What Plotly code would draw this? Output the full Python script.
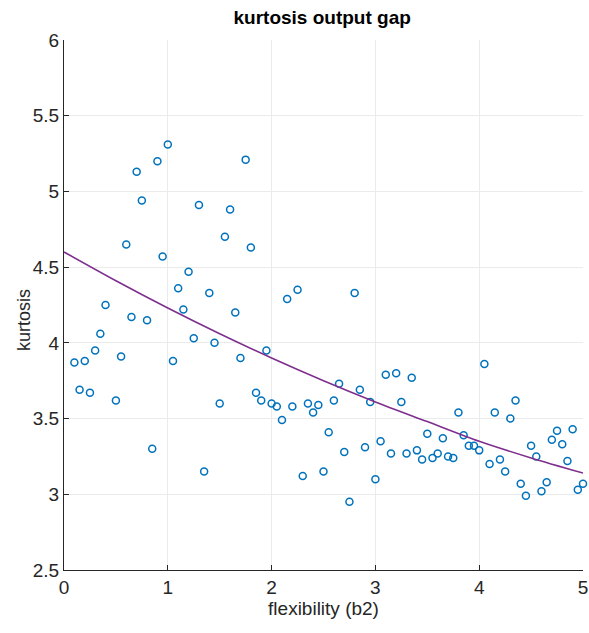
import plotly.graph_objects as go

# flexibility (b2) grid values and kurtosis
flex = [0.10, 0.15, 0.20, 0.25, 0.30, 0.35, 0.40, 0.50, 0.55, 0.60,
        0.65, 0.70, 0.75, 0.80, 0.85, 0.90, 0.95, 1.00, 1.05, 1.10,
        1.15, 1.20, 1.25, 1.30, 1.35, 1.40, 1.45, 1.50, 1.55, 1.60,
        1.65, 1.70, 1.75, 1.80, 1.85, 1.90, 1.95, 2.00, 2.05, 2.10,
        2.15, 2.20, 2.25, 2.30, 2.35, 2.40, 2.45, 2.50, 2.55, 2.60,
        2.65, 2.70, 2.75, 2.80, 2.85, 2.90, 2.95, 3.00, 3.05, 3.10,
        3.15, 3.20, 3.25, 3.30, 3.35, 3.40, 3.45, 3.50, 3.55, 3.60,
        3.65, 3.70, 3.75, 3.80, 3.85, 3.90, 3.95, 4.00, 4.05, 4.10,
        4.15, 4.20, 4.25, 4.30, 4.35, 4.40, 4.45, 4.50, 4.55, 4.60,
        4.65, 4.70, 4.75, 4.80, 4.85, 4.90, 4.95, 5.00]
kurt = [3.87, 3.69, 3.88, 3.67, 3.95, 4.06, 4.25, 3.62, 3.91, 4.65,
        4.17, 5.13, 4.94, 4.15, 3.30, 5.20, 4.57, 5.31, 3.88, 4.36,
        4.22, 4.47, 4.03, 4.91, 3.15, 4.33, 4.00, 3.60, 4.70, 4.88,
        4.20, 3.90, 5.21, 4.63, 3.67, 3.62, 3.95, 3.60, 3.58, 3.49,
        4.29, 3.58, 4.35, 3.12, 3.60, 3.54, 3.59, 3.15, 3.41, 3.62,
        3.73, 3.28, 2.95, 4.33, 3.69, 3.31, 3.61, 3.10, 3.35, 3.79,
        3.27, 3.80, 3.61, 3.27, 3.77, 3.29, 3.23, 3.40, 3.24, 3.27,
        3.37, 3.25, 3.24, 3.54, 3.39, 3.32, 3.32, 3.29, 3.86, 3.20,
        3.54, 3.23, 3.15, 3.50, 3.62, 3.07, 2.99, 3.32, 3.25, 3.02,
        3.08, 3.36, 3.42, 3.33, 3.22, 3.43, 3.03, 3.07]

# fitted trend line
fit_x = [0.0, 0.5, 1.0, 1.5, 2.0, 2.5, 3.0, 3.5, 4.0, 4.5, 5.0]
fit_y = [4.60, 4.41, 4.23, 4.06, 3.90, 3.75, 3.61, 3.48, 3.35, 3.24, 3.14]

FONT = "Liberation Sans, Arial, Helvetica, sans-serif"
INK = "#262626"

fig = go.Figure()
fig.add_trace(go.Scatter(
    x=flex, y=kurt, mode="markers",
    marker=dict(symbol="circle-open", size=7, color="#0072BD",
                line=dict(width=1.5, color="#0072BD")),
    showlegend=False, cliponaxis=False))
fig.add_trace(go.Scatter(
    x=fit_x, y=fit_y, mode="lines",
    line=dict(color="#7E2F8E", width=1.6, shape="spline", smoothing=0.8),
    showlegend=False))

axis_common = dict(
    showgrid=True, gridcolor="#ebebeb", gridwidth=1,
    zeroline=False, showline=True, linecolor=INK, linewidth=1,
    ticks="inside", ticklen=5, tickcolor=INK,
    tickfont=dict(family=FONT, size=19, color=INK),
    ticklabeloverflow="allow",
    mirror=False, automargin=False,
)

fig.update_layout(
    width=589, height=633,
    margin=dict(l=64, r=6, t=40, b=63),
    paper_bgcolor="white", plot_bgcolor="white",
    title=dict(text="<b>kurtosis output gap</b>", x=0.547, xanchor="center",
               xref="container", y=0.972, yref="container", yanchor="middle",
               font=dict(family=FONT, size=19, color="black")),
    xaxis=dict(range=[0, 5], tickvals=[0, 1, 2, 3, 4, 5],
               title=dict(text="flexibility (b2)", standoff=2,
                          font=dict(family=FONT, size=19, color=INK)),
               **axis_common),
    yaxis=dict(range=[2.5, 6], tickvals=[2.5, 3, 3.5, 4, 4.5, 5, 5.5, 6],
               ticktext=["2.5", "3", "3.5", "4", "4.5", "5", "5.5", "6"],
               **axis_common),
    annotations=[dict(text="kurtosis", textangle=-90, showarrow=False,
                      xref="paper", yref="paper", x=0, y=0.5,
                      xanchor="center", yanchor="middle",
                      xshift=-40, yshift=-15,
                      font=dict(family=FONT, size=18, color=INK))],
)

# drop the default page margin so the 589x633 figure fills the window
fig.write_html("out.html",
               config={"displayModeBar": False},
               post_script="document.body.style.margin='0';"
                           "document.body.style.overflow='hidden';")
